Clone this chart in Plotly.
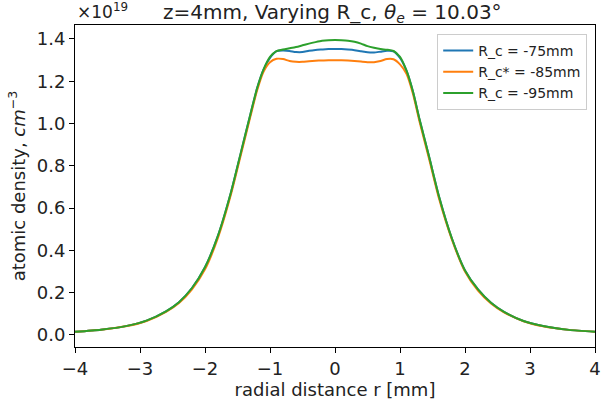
import plotly.graph_objects as go

# radial positions [mm]
r = [-4.0, -3.6, -3.2, -2.9, -2.6, -2.4, -2.2, -2.0, -1.8, -1.6, -1.45, -1.3, -1.2, -1.1, -1.0,
     -0.9, -0.8, -0.7, -0.6, -0.5, -0.4, -0.3, -0.2, -0.1, 0.0,
     0.1, 0.2, 0.3, 0.4, 0.5, 0.6, 0.7, 0.8, 0.9,
     1.0, 1.1, 1.2, 1.3, 1.45, 1.6, 1.8, 2.0, 2.2, 2.4, 2.6, 2.9, 3.2, 3.6, 4.0]

# atomic density in units of 1e19 cm^-3
rc75 = [0.015, 0.025, 0.043, 0.068, 0.112, 0.155, 0.222, 0.32, 0.47, 0.675, 0.86, 1.045, 1.165, 1.255, 1.31,
        1.342, 1.345, 1.343, 1.338, 1.338, 1.344, 1.348, 1.350, 1.352, 1.353,
        1.352, 1.350, 1.347, 1.342, 1.337, 1.336, 1.340, 1.344, 1.342,
        1.31, 1.25, 1.15, 1.02, 0.84, 0.655, 0.455, 0.305, 0.215, 0.152, 0.109, 0.066, 0.042, 0.024, 0.015]
rc85 = [0.015, 0.025, 0.042, 0.066, 0.109, 0.151, 0.216, 0.31, 0.46, 0.665, 0.85, 1.035, 1.155, 1.245, 1.29,
        1.306, 1.305, 1.296, 1.292, 1.292, 1.295, 1.297, 1.298, 1.299, 1.299,
        1.299, 1.298, 1.296, 1.293, 1.290, 1.290, 1.296, 1.305, 1.304,
        1.28, 1.235, 1.14, 1.01, 0.83, 0.645, 0.45, 0.30, 0.21, 0.149, 0.107, 0.065, 0.041, 0.024, 0.015]
rc95 = [0.015, 0.025, 0.043, 0.068, 0.112, 0.155, 0.222, 0.32, 0.47, 0.675, 0.86, 1.045, 1.165, 1.255, 1.315,
        1.342, 1.350, 1.356, 1.362, 1.370, 1.378, 1.385, 1.391, 1.394, 1.395,
        1.394, 1.392, 1.387, 1.378, 1.366, 1.358, 1.352, 1.349, 1.343,
        1.315, 1.25, 1.15, 1.02, 0.84, 0.655, 0.455, 0.305, 0.215, 0.152, 0.109, 0.066, 0.042, 0.024, 0.015]

series = [("R_c = -75mm", rc75, "#1f77b4"),
          ("R_c* = -85mm", rc85, "#ff7f0e"),
          ("R_c = -95mm", rc95, "#2ca02c")]

x_ticks = [-4, -3, -2, -1, 0, 1, 2, 3, 4]
y_ticks = [0.0, 0.2, 0.4, 0.6, 0.8, 1.0, 1.2, 1.4]

FONT = "DejaVu Sans"

fig = go.Figure()
for name, vals, col in series:
    fig.add_trace(go.Scatter(x=r, y=vals, mode="lines", name=name,
                             line=dict(color=col, width=2, shape="spline", smoothing=0.6)))

axis_common = dict(showline=True, linecolor="black", linewidth=1, mirror=True,
                   ticks="outside", ticklen=5, tickcolor="black", showgrid=False,
                   zeroline=False, ticklabeloverflow="allow",
                   tickfont=dict(family=FONT, size=18, color="#222"))

fig.update_layout(
    width=603, height=400,
    margin=dict(l=75, r=2, t=25, b=53),
    paper_bgcolor="white", plot_bgcolor="white",
    font=dict(family=FONT, color="#222"),
    title=dict(text="z=4mm, Varying R_c, <i>θ<sub>e</sub></i> = 10.03°",
               x=163 / 603, xanchor="left", y=1 - 12 / 400, yanchor="middle",
               font=dict(family=FONT, size=20, color="#222")),
    xaxis=dict(range=[-4, 4], tickvals=x_ticks,
               title=dict(text="radial distance r [mm]", font=dict(family=FONT, size=18), standoff=4),
               **axis_common),
    yaxis=dict(range=[-0.057, 1.466], tickvals=y_ticks, tickformat=".1f",
               title=dict(text="atomic density, <i>cm</i><sup>−3</sup>", font=dict(family=FONT, size=18), standoff=6),
               **axis_common),
    legend=dict(x=0.985, xanchor="right", y=0.972, yanchor="top",
                bgcolor="white", bordercolor="#cccccc", borderwidth=1,
                font=dict(family=FONT, size=14, color="#222"), itemwidth=30,
                tracegroupgap=2),
    showlegend=True,
)

fig.add_annotation(text="×10<sup>19</sup>", xref="paper", yref="paper", x=0, y=1,
                   xanchor="left", yanchor="bottom", yshift=1, showarrow=False,
                   font=dict(family=FONT, size=17, color="#222"))

fig.write_html("out.html")
